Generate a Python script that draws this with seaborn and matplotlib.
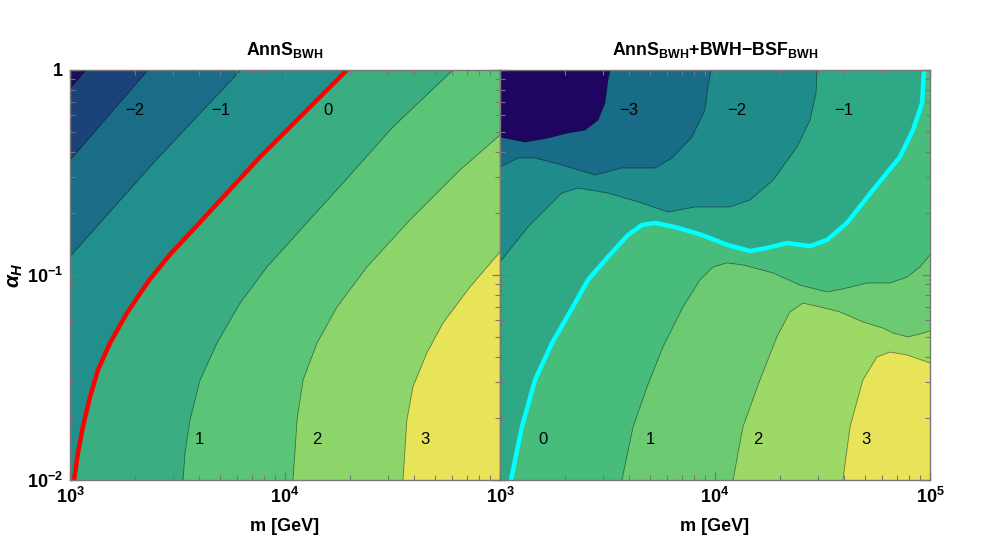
import numpy as np
import pandas as pd
import matplotlib
matplotlib.use("Agg")
import matplotlib.pyplot as plt
import seaborn as sns
from matplotlib.ticker import FixedLocator, FixedFormatter, LogLocator, NullFormatter

# contour levels, each boundary as (log10 m/GeV, log10 alpha_H)
levels = [-3, -2, -1, 0, 1, 2, 3]

left_m3 = [(3.000, -0.09), (3.075, 0.0)]
left_m2 = [(3.000, -0.44), (3.363, 0.0)]
left_m1 = [(3.000, -0.91), (3.400, -0.44), (3.795, 0.0)]
left_0 = [(3.019, -2.0), (3.037, -1.868), (3.060, -1.741), (3.093, -1.595), (3.130, -1.463),
          (3.186, -1.332), (3.265, -1.185), (3.365, -1.030), (3.465, -0.900), (3.572, -0.780),
          (3.712, -0.620), (3.884, -0.424), (4.070, -0.229), (4.288, 0.0)]
left_1 = [(3.526, -2.0), (3.535, -1.868), (3.558, -1.707), (3.605, -1.512), (3.684, -1.332),
          (3.791, -1.137), (3.916, -0.961), (4.084, -0.766), (4.270, -0.551), (4.502, -0.278),
          (4.781, 0.0)]
left_2 = [(4.037, -2.0), (4.047, -1.854), (4.056, -1.707), (4.084, -1.512), (4.149, -1.332),
          (4.242, -1.156), (4.381, -0.961), (4.581, -0.732), (4.814, -0.488), (5.0, -0.317)]
left_3 = [(4.549, -2.0), (4.567, -1.707), (4.595, -1.546), (4.660, -1.380), (4.735, -1.234),
          (4.860, -1.059), (5.0, -0.888)]

right_m3 = [(3.000, -0.327), (3.116, -0.351), (3.223, -0.332), (3.316, -0.307), (3.395, -0.293),
            (3.456, -0.244), (3.488, -0.161), (3.502, -0.049), (3.512, 0.0)]
right_m2 = [(3.000, -0.473), (3.084, -0.429), (3.163, -0.429), (3.288, -0.463), (3.442, -0.512),
            (3.567, -0.478), (3.721, -0.478), (3.800, -0.429), (3.893, -0.327), (3.953, -0.195),
            (3.967, -0.083), (3.981, 0.0)]
right_m1 = [(3.000, -0.937), (3.130, -0.766), (3.288, -0.600), (3.363, -0.576), (3.502, -0.600),
            (3.660, -0.649), (3.781, -0.693), (3.907, -0.668), (4.070, -0.668), (4.163, -0.634),
            (4.270, -0.537), (4.381, -0.376), (4.442, -0.244), (4.470, -0.112), (4.474, 0.0)]
right_0 = [(3.051, -2.0), (3.102, -1.741), (3.163, -1.512), (3.242, -1.332), (3.349, -1.137),
           (3.409, -1.024), (3.502, -0.912), (3.595, -0.805), (3.660, -0.756), (3.721, -0.746),
           (3.814, -0.766), (3.940, -0.805), (4.060, -0.854), (4.163, -0.883), (4.242, -0.868),
           (4.335, -0.844), (4.442, -0.859), (4.521, -0.829), (4.614, -0.746), (4.735, -0.585),
           (4.860, -0.424), (4.921, -0.293), (4.963, -0.161), (4.972, 0.0)]
right_1 = [(3.567, -2.0), (3.619, -1.741), (3.684, -1.546), (3.758, -1.351), (3.851, -1.156),
           (3.930, -1.024), (3.991, -0.961), (4.056, -0.941), (4.130, -0.951), (4.270, -0.990),
           (4.395, -1.049), (4.521, -1.083), (4.595, -1.068), (4.707, -1.039), (4.814, -1.039),
           (4.893, -1.010), (4.953, -0.961), (5.0, -0.902)]
right_2 = [(4.084, -2.0), (4.130, -1.741), (4.209, -1.512), (4.288, -1.302), (4.349, -1.180),
           (4.409, -1.137), (4.488, -1.156), (4.581, -1.180), (4.688, -1.229), (4.781, -1.259),
           (4.828, -1.283), (4.898, -1.302), (4.953, -1.288), (5.0, -1.273)]
right_3 = [(4.595, -2.0), (4.628, -1.741), (4.688, -1.512), (4.753, -1.400), (4.814, -1.376),
           (4.893, -1.390), (5.0, -1.429)]

left_contours = [left_m3, left_m2, left_m1, left_0, left_1, left_2, left_3]
right_contours = [right_m3, right_m2, right_m1, right_0, right_1, right_2, right_3]

# band labels: value and position (log10 m, log10 alpha)
left_labels = [-2, -1, 0, 1, 2, 3]
left_label_x = [3.30, 3.70, 4.20, 3.60, 4.15, 4.65]
left_label_y = [-0.2, -0.2, -0.2, -1.8, -1.8, -1.8]
right_labels = [-3, -2, -1, 0, 1, 2, 3]
right_label_x = [3.60, 4.10, 4.60, 3.20, 3.70, 4.20, 4.70]
right_label_y = [-0.2, -0.2, -0.2, -1.8, -1.8, -1.8, -1.8]

left_colors = ["#200a5e", "#1b4279", "#1a6c87", "#21908c", "#3aae80", "#5bc577", "#8dd56b", "#e8e45a"]
right_colors = ["#1e0560", "#196c87", "#1f8c8b", "#2fa886", "#48bc7a", "#6ccb72", "#9dd967", "#e8e45a"]

XMIN, XMAX, YMIN, YMAX = 3.0, 5.0, -2.0, 0.0

sns.set_theme(style="ticks")
plt.rcParams['font.family'] = ['Liberation Sans', 'DejaVu Sans']
plt.rcParams['text.color'] = 'black'
plt.rcParams['axes.labelcolor'] = 'black'
plt.rcParams['xtick.labelcolor'] = 'black'
plt.rcParams['ytick.labelcolor'] = 'black'
plt.rcParams['mathtext.fontset'] = 'custom'
plt.rcParams['mathtext.rm'] = 'Liberation Sans:bold'
plt.rcParams['mathtext.bf'] = 'Liberation Sans:bold'
plt.rcParams['mathtext.it'] = 'Liberation Sans:bold:italic'


def high_side(pts):
    # polygon of everything to the lower right of a contour
    px, py = [p[0] for p in pts], [p[1] for p in pts]
    if py[-1] >= YMAX:
        px.append(XMAX); py.append(YMAX)
    px.append(XMAX); py.append(YMIN)
    if px[0] <= XMIN:
        px.append(XMIN); py.append(YMIN)
    return np.power(10.0, px), np.power(10.0, py)


def draw_panel(ax, contours, colors, line_color, labels, lab_x, lab_y, title):
    ax.set_xscale('log')
    ax.set_yscale('log')
    ax.set_facecolor(colors[0])
    for k, pts in enumerate(contours):
        fx, fy = high_side(pts)
        ax.fill(fx, fy, color=colors[k + 1], lw=0, zorder=1)
    for k, pts in enumerate(contours):
        cx = np.power(10.0, [p[0] for p in pts])
        cy = np.power(10.0, [p[1] for p in pts])
        ax.plot(cx, cy, color='black', lw=0.6, alpha=0.45, zorder=1.5)
    zero = pd.DataFrame(contours[levels.index(0)], columns=['lm', 'la'])
    sns.lineplot(x=10 ** zero['lm'], y=10 ** zero['la'], sort=False, estimator=None,
                 color=line_color, lw=3.2, ax=ax, zorder=2)
    for v, lx, ly in zip(labels, lab_x, lab_y):
        ax.text(10 ** lx, 10 ** ly, str(v).replace('-', '\u2212'), ha='center', va='center',
                fontsize=12, color='black', zorder=3)
    ax.set_xlim(10 ** XMIN, 10 ** XMAX)
    ax.set_ylim(10 ** YMIN, 10 ** YMAX)
    ax.set_axisbelow(False)
    ax.xaxis.set_major_locator(FixedLocator([1e3, 1e4, 1e5]))
    ax.yaxis.set_major_locator(FixedLocator([1e-2, 1e-1, 1]))
    ax.xaxis.set_minor_locator(LogLocator(base=10, subs=np.arange(2, 10)))
    ax.yaxis.set_minor_locator(LogLocator(base=10, subs=np.arange(2, 10)))
    ax.xaxis.set_minor_formatter(NullFormatter())
    ax.yaxis.set_minor_formatter(NullFormatter())
    ax.tick_params(which='both', direction='in', top=True, right=True, color='#777777',
                   labelsize=13, labelcolor='black', pad=5)
    ax.tick_params(which='major', length=6, width=0.9)
    ax.tick_params(which='minor', length=3.5, width=0.8)
    for s in ax.spines.values():
        s.set_color('#777777')
        s.set_linewidth(1.0)
    ax.set_title(title, fontsize=12.8, fontweight='bold', pad=11, color='black')
    ax.set_xlabel('m [GeV]', fontsize=13, fontweight='bold', labelpad=8, color='black')
    ax.set_ylabel('')


fig = plt.figure(figsize=(10, 5.5), dpi=100)
axL = fig.add_axes([0.07, 70 / 550, 0.43, 410 / 550])
axR = fig.add_axes([0.50, 70 / 550, 0.43, 410 / 550])

draw_panel(axL, left_contours, left_colors, '#ff0000', left_labels, left_label_x, left_label_y,
           r'AnnS$_{\mathbf{BWH}}$')
draw_panel(axR, right_contours, right_colors, '#00ffff', right_labels, right_label_x, right_label_y,
           r'AnnS$_{\mathbf{BWH}}$+BWH$\mathbf{-}$BSF$_{\mathbf{BWH}}$')

axL.xaxis.set_major_formatter(FixedFormatter([r'$\mathbf{10^{3}}$', r'$\mathbf{10^{4}}$', '']))
axR.xaxis.set_major_formatter(FixedFormatter([r'$\mathbf{10^{3}}$', r'$\mathbf{10^{4}}$', r'$\mathbf{10^{5}}$']))
axL.yaxis.set_major_formatter(FixedFormatter([r'$\mathbf{10^{-2}}$', r'$\mathbf{10^{-1}}$', r'$\mathbf{1}$']))
axR.yaxis.set_major_formatter(NullFormatter())
axL.set_ylabel(r'$\alpha_H$', fontsize=15, labelpad=1, color='black')

fig.savefig('out.png', dpi=100)
